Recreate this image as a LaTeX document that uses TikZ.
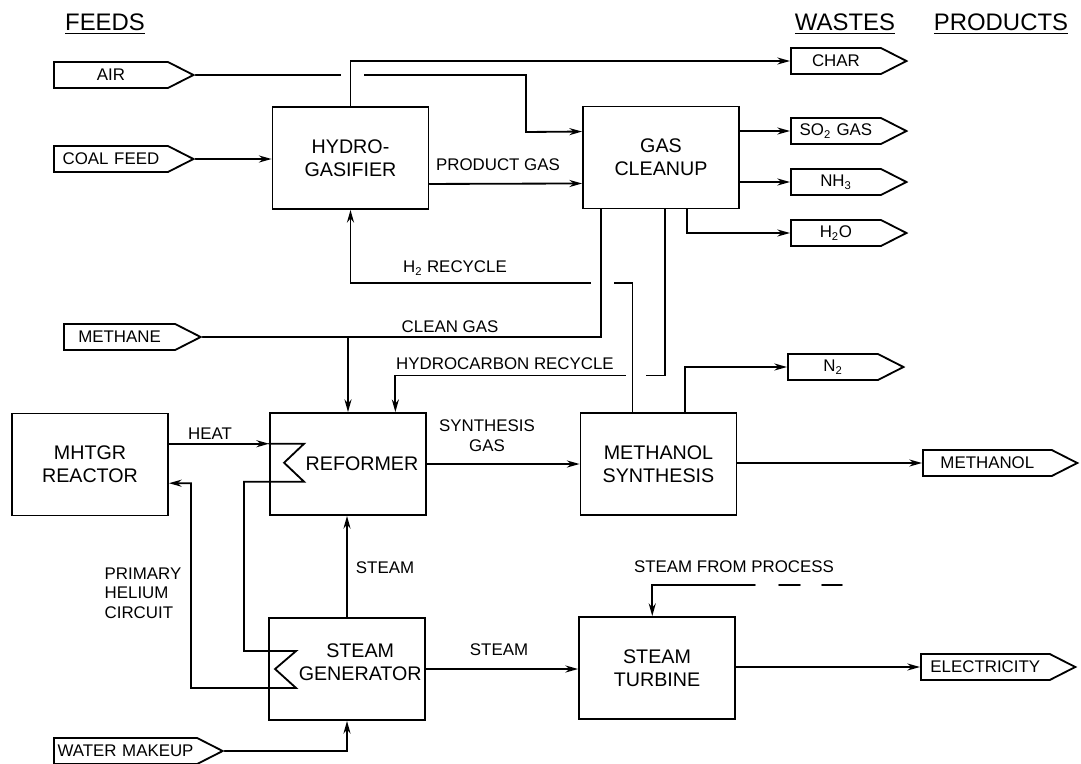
\documentclass[tikz,border=0pt]{standalone}
\usepackage{fontspec}
\setmainfont{Liberation Sans}
\usetikzlibrary{arrows.meta,calc,shapes.symbols}

\newcommand\lblfont{\fontsize{12}{14}\selectfont}
\newcommand\boxfont{\fontsize{14}{16.5}\selectfont}
\newcommand\headfont{\fontsize{17}{20}\selectfont}

\tikzset{
  pipe/.style={line width=1.3pt, line cap=round},
  flow/.style={pipe, -{Stealth[length=9pt,width=5pt]}},
  block/.style={draw, pipe, minimum width=3.9cm, minimum height=2.55cm, align=center, font=\boxfont, inner sep=2pt},
  stream/.style={signal, signal to=east, signal pointer angle=54, draw, pipe, minimum height=0.65cm, inner xsep=0pt, inner ysep=0pt, text width=#1, align=center, font=\lblfont, anchor=west},
  lbl/.style={font=\lblfont, align=center, inner sep=1pt},
  head/.style={font=\headfont},
  gap/.style={fill=white},
}

\begin{document}
\begin{tikzpicture}[x=0.025cm, y=-0.025cm, >=Stealth]
\useasboundingbox (0,0) rectangle (1081,764);

% headings
\node[head] (feeds) at (105,24) {\underline{FEEDS}};
\node[head] (wastes) at (845,24) {\underline{WASTES}};
\node[head] (products) at (1001,24) {\underline{PRODUCTS}};

% process units
\node[block] (hyd) at (350.5,158) {HYDRO-\\GASIFIER};
\node[block] (gcl) at (661,157.5) {GAS\\CLEANUP};
\node[block] (mhtgr) at (90,464.5) {MHTGR\\REACTOR};
\node[block, label={[font=\boxfont, xshift=0.35cm]center:REFORMER}] (ref) at (348,464) {};
\node[block] (meth) at (658.5,464) {METHANOL\\SYNTHESIS};
\node[block, label={[font=\boxfont, align=center, xshift=0.33cm, yshift=0.17cm]center:STEAM\\GENERATOR}] (sgen) at (347,669) {};
\node[block] (turb) at (657,668) {STEAM\\TURBINE};

% feeds
\node[stream=2.85cm] (air) at (53,75) {AIR};
\node[stream=2.85cm] (coal) at (53,159) {COAL FEED};
\node[stream=2.78cm] (methane) at (63,337) {METHANE};
\node[stream=3.58cm] (water) at (53,751) {WATER MAKEUP};

% wastes
\node[stream=2.25cm] (char) at (790,61) {CHAR};
\node[stream=2.25cm] (so2) at (790,131) {SO\textsubscript{2} GAS};
\node[stream=2.25cm] (nh3) at (790,182) {NH\textsubscript{3}};
\node[stream=2.25cm] (h2o) at (790,233) {H\textsubscript{2}O};
\node[stream=2.25cm] (n2) at (787,367) {N\textsubscript{2}};

% products
\node[stream=3.22cm] (methanol) at (922,463) {METHANOL};
\node[stream=3.22cm] (elec) at (920,667) {ELECTRICITY};

% gasifier side
\coordinate (airbend) at (526,132);
\draw[flow] (air.east) -| (airbend) -- ($(gcl.north west)!.25!(gcl.south west)$);
\fill[gap] (341,70) rectangle (364,80);
\draw[flow] (hyd.north) |- (char.west);
\draw[flow] (coal.east) -- (coal.east -| hyd.west);
\draw[flow] ($(hyd.north east)!.75!(hyd.south east)$) -- ($(gcl.north west)!.75!(gcl.south west)$);
\draw[flow] (so2.west -| gcl.east) -- (so2.west);
\draw[flow] (nh3.west -| gcl.east) -- (nh3.west);
\draw[flow] ($(gcl.south west)!.667!(gcl.south east)$) |- (h2o.west);

% recycles and clean gas
\draw[flow] ($(gcl.south west)!.526!(gcl.south east)$) -- ++(0,166) -| ($(ref.north west)!.8!(ref.north east)$);
\fill[gap] (626,369) rectangle (646,379);
\draw[flow] ($(meth.north west)!.335!(meth.north east)$) -- ++(0,-129) -| (hyd.south);
\fill[gap] (591,279) rectangle (614,289);
\draw[flow] ($(gcl.south west)!.12!(gcl.south east)$) |- (methane.east -| ref.north) -- (ref.north);
\draw[pipe] (methane.east) -- (methane.east -| ref.north);

% synthesis
\draw[flow] (ref.east) -- (meth.west);
\draw[flow] ($(meth.north west)!.67!(meth.north east)$) |- (n2.west);
\draw[flow] (methanol.west -| meth.east) -- (methanol.west);

% primary helium circuit
\coordinate (heatin) at ($(mhtgr.north east)!.3!(mhtgr.south east)$);
\draw[flow] (heatin) -- (heatin -| ref.west);
\draw[flow] (heatin -| ref.west) -- ++(35,0) -- ++(-20,19) -- ++(20,19) -- ++(-60,0)
  |- ($(sgen.west)+(28,-18)$) -- ++(-21,18) -- ++(21,19) -- ++(-105,0)
  |- ($(mhtgr.north east)!.68!(mhtgr.south east)$);

% steam
\draw[flow] (sgen.north) -- (sgen.north |- ref.south);
\draw[flow] (water.east) -| (sgen.south);
\draw[flow] (sgen.east) -- (sgen.east -| turb.west);
\coordinate (proc) at (755,585);
\draw[flow] (proc) -| ($(turb.north west)!.47!(turb.north east)$);
\foreach \a/\b in {779/800,822/842}
  \draw[pipe] (\a,585) -- (\b,585);
\draw[flow] (elec.west -| turb.east) -- (elec.west);

% labels
\node[lbl] (l-pgas) at (498,165) {PRODUCT GAS};
\node[lbl] (l-h2) at (455,268) {H\textsubscript{2} RECYCLE};
\node[lbl] (l-clean) at (450,327) {CLEAN GAS};
\node[lbl] (l-hc) at (505,364) {HYDROCARBON RECYCLE};
\node[lbl] (l-heat) at (210,434) {HEAT};
\node[lbl] (l-syn) at (487,436) {SYNTHESIS\\GAS};
\node[lbl] (l-steam1) at (385,568) {STEAM};
\node[lbl] (l-steam2) at (499,650) {STEAM};
\node[lbl, align=left, anchor=west] (l-helium) at (103,593) {PRIMARY\\HELIUM\\CIRCUIT};
\node[lbl] (l-proc) at (734,567) {STEAM FROM PROCESS};

\end{tikzpicture}
\end{document}
